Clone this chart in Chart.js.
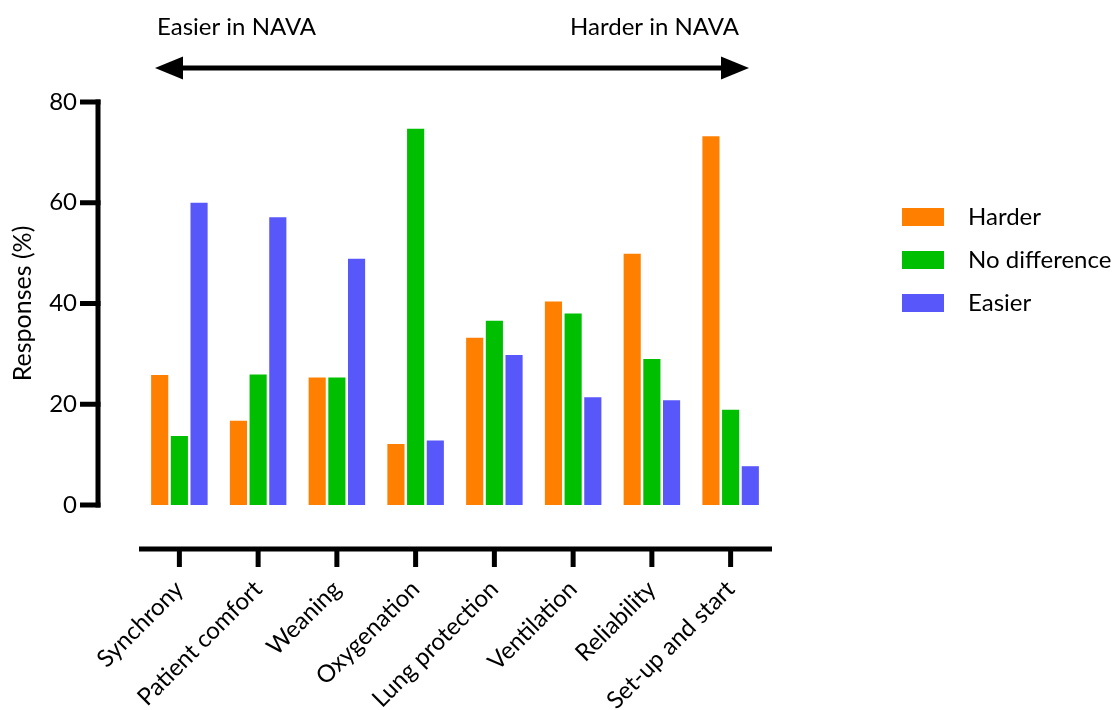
<html>
	<head>
		<script src="https://cdn.jsdelivr.net/npm/chart.js"></script>
		<style>
			body {
				margin: 0;
				background: #ffffff;
			}
			#wrap {
				width: 1115px;
				height: 710px;
			}
		</style>
	</head>
	<body>
		<div id="wrap">
			<canvas id="navaChart" width="1115" height="710"></canvas>
		</div>

		<script>
			const categories = ['Synchrony', 'Patient comfort', 'Weaning', 'Oxygenation', 'Lung protection', 'Ventilation', 'Reliability', 'Set-up and start'];
			const harder = [25.8, 16.7, 25.3, 12.1, 33.2, 40.4, 49.9, 73.2];
			const noDifference = [13.7, 25.9, 25.3, 74.7, 36.6, 38.0, 29.0, 18.9];
			const easier = [60.0, 57.1, 48.9, 12.8, 29.8, 21.4, 20.8, 7.7];
			const yTicks = [0, 20, 40, 60, 80];

			const FONT = 'Lato, "Open Sans", sans-serif';

			// axes drawn offset from the plot, arrow header and legend
			const decorations = {
				id: 'decorations',
				afterDraw(chart) {
					const ctx = chart.ctx;
					const area = chart.chartArea;
					const xs = chart.scales.x;
					const ys = chart.scales.y;
					ctx.save();
					ctx.strokeStyle = '#000';
					ctx.fillStyle = '#000';
					ctx.lineWidth = 5;
					ctx.lineCap = 'butt';

					// y axis
					const axX = area.left - 42;
					ctx.beginPath();
					ctx.moveTo(axX, ys.getPixelForValue(80) - 2.5);
					ctx.lineTo(axX, ys.getPixelForValue(0) + 2.5);
					ctx.stroke();
					yTicks.forEach(v => {
						const py = ys.getPixelForValue(v);
						ctx.beginPath();
						ctx.moveTo(axX - 18, py);
						ctx.lineTo(axX + 2.5, py);
						ctx.stroke();
					});

					// x axis
					const axY = area.bottom + 44;
					ctx.beginPath();
					ctx.moveTo(area.left - 1, axY);
					ctx.lineTo(area.right + 2, axY);
					ctx.stroke();
					categories.forEach((c, i) => {
						const px = xs.getPixelForValue(i);
						ctx.beginPath();
						ctx.moveTo(px, axY);
						ctx.lineTo(px, axY + 18);
						ctx.stroke();
					});

					// header arrow
					const arrowY = 68;
					const l = 155, r = 749;
					ctx.beginPath();
					ctx.moveTo(l + 20, arrowY);
					ctx.lineTo(r - 20, arrowY);
					ctx.stroke();
					ctx.beginPath();
					ctx.moveTo(l, arrowY);
					ctx.lineTo(l + 28, arrowY - 11.5);
					ctx.lineTo(l + 28, arrowY + 11.5);
					ctx.closePath();
					ctx.fill();
					ctx.beginPath();
					ctx.moveTo(r, arrowY);
					ctx.lineTo(r - 28, arrowY - 11.5);
					ctx.lineTo(r - 28, arrowY + 11.5);
					ctx.closePath();
					ctx.fill();

					ctx.font = '24px ' + FONT;
					ctx.textBaseline = 'alphabetic';
					ctx.textAlign = 'left';
					ctx.fillText('Easier in NAVA', 157, 35);
					ctx.textAlign = 'right';
					ctx.fillText('Harder in NAVA', 739, 35);

					// legend
					ctx.textAlign = 'left';
					ctx.textBaseline = 'middle';
					chart.data.datasets.forEach((ds, i) => {
						const cy = 217 + i * 43;
						ctx.fillStyle = ds.backgroundColor;
						ctx.fillRect(902, cy - 9, 42, 18);
						ctx.fillStyle = '#000';
						ctx.fillText(ds.label, 968, cy);
					});
					ctx.restore();
				}
			};

			const ctx = document.getElementById('navaChart').getContext('2d');
			const chart = new Chart(ctx, {
				type: 'bar',
				data: {
					labels: categories,
					datasets: [
						{ label: 'Harder', data: harder, backgroundColor: '#FF8000' },
						{ label: 'No difference', data: noDifference, backgroundColor: '#00BF00' },
						{ label: 'Easier', data: easier, backgroundColor: '#5757FA' }
					]
				},
				options: {
					responsive: false,
					animation: false,
					devicePixelRatio: 1,
					layout: {
						padding: { left: 0, top: 102, right: 345, bottom: 0 }
					},
					datasets: {
						bar: {
							categoryPercentage: 0.75,
							barPercentage: 0.87,
							borderWidth: 0
						}
					},
					plugins: {
						legend: { display: false },
						tooltip: { enabled: false }
					},
					scales: {
						x: {
							grid: { display: false, drawTicks: false },
							border: { display: false },
							ticks: {
								minRotation: 45,
								maxRotation: 45,
								autoSkip: false,
								padding: 70,
								color: '#000',
								font: { family: FONT, size: 24 }
							},
							afterFit(scale) { scale.height = 205; }
						},
						y: {
							min: 0,
							max: 80,
							grid: { display: false, drawTicks: false },
							border: { display: false },
							ticks: {
								stepSize: 20,
								padding: 63,
								color: '#000',
								font: { family: FONT, size: 24 }
							},
							title: {
								display: true,
								text: 'Responses (%)',
								color: '#000',
								padding: { top: 8, bottom: 0 },
								font: { family: FONT, size: 25 }
							},
							afterFit(scale) { scale.width = 140; }
						}
					}
				},
				plugins: [decorations]
			});
		</script>
	</body>
</html>
